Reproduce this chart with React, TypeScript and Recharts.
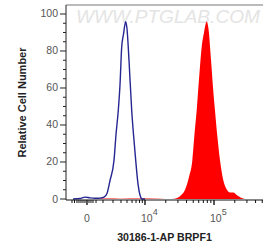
import React from 'react';
import { ComposedChart, Area, Line, XAxis, YAxis, ReferenceLine, Customized } from 'recharts';

// x values are display-scale positions: 4 = 10^4, 5 = 10^5 (biexponential axis)
const blueX = [2.957, 3.058, 3.13, 3.203, 3.275, 3.348, 3.406, 3.449, 3.493, 3.551, 3.58, 3.613, 3.638, 3.662, 3.688, 3.72, 3.739, 3.768, 3.807, 3.833, 3.865, 3.899, 3.928, 3.957, 4.0];
const blueY = [0, 0.3, 1.0, 0.6, 0.4, 0.5, 1, 3, 10, 21, 35, 48, 62, 82, 89, 95.8, 92, 75, 48, 35, 21, 8, 2, 0, 0];

const redX = [3.275, 3.493, 3.638, 3.928, 4.217, 4.391, 4.464, 4.522, 4.58, 4.638, 4.686, 4.717, 4.749, 4.783, 4.821, 4.855, 4.894, 4.92, 4.957, 4.986, 5.014, 5.051, 5.087, 5.13, 5.188, 5.232, 5.28, 5.333, 5.391, 5.449];
const redY = [0.3, 0.3, 0.2, 0.3, 0.2, 0, 0.5, 2, 5, 12, 21, 35, 48, 65, 82, 90, 96, 92, 75, 60, 48, 33, 21, 11, 5, 3.5, 3.5, 2, 0.7, 0];

const xMajorTicks = [3.159, 4, 5];
const xMajorLabels = ['0', '10', '10'];
const xMajorSup = ['', '4', '5'];
const xMinorTicks = [2.942, 2.978, 3.014, 3.043, 3.072, 3.101, 3.13, 3.188, 3.217, 3.246, 3.29,
  3.391, 3.536, 3.652, 3.739, 3.812, 3.87, 3.92, 3.961,
  4.301, 4.477, 4.602, 4.699, 4.778, 4.845, 4.903, 4.954,
  5.301, 5.477, 5.602, 5.699];
const xDomain = [2.855, 5.71];

const yMajorTicks = [0, 20, 40, 60, 80, 100];
const yMinorTicks = [5, 10, 15, 25, 30, 35, 45, 50, 55, 65, 70, 75, 85, 90, 95];
const yDomain = [-0.54, 104.86];

const xTitle = '30186-1-AP BRPF1';
const yTitle = 'Relative Cell Number';
const watermark = 'WWW.PTGLAB.COM';

const blueData = blueX.map((x, i) => ({ x, y: blueY[i] }));
const redData = redX.map((x, i) => ({ x, y: redY[i] }));
const allXTicks = [...xMajorTicks, ...xMinorTicks].sort((a, b) => a - b);
const allYTicks = [...yMajorTicks, ...yMinorTicks].sort((a, b) => a - b);

const FONT = '"Liberation Sans", Arial, sans-serif';

const XTick = (props: any) => {
  const { x, y, payload } = props;
  const idx = xMajorTicks.indexOf(payload.value);
  const major = idx >= 0;
  return (
    <g>
      <line x1={x} x2={x} y1={y} y2={y + (major ? 5 : 3)} stroke="#111" strokeWidth={major ? 1.4 : 1} />
      {major && (
        xMajorSup[idx] ? (
          <text x={x - 4} y={y + 22} fontSize={10.5} fill="#555" fontFamily={FONT} textAnchor="start">
            {xMajorLabels[idx]}
            <tspan dy={-7} fontSize={9}>{xMajorSup[idx]}</tspan>
          </text>
        ) : (
          <text x={x} y={y + 22} fontSize={10.5} fill="#555" fontFamily={FONT} textAnchor="middle">
            {xMajorLabels[idx]}
          </text>
        )
      )}
    </g>
  );
};

const YTick = (props: any) => {
  const { x, y, payload } = props;
  const major = yMajorTicks.indexOf(payload.value) >= 0;
  return (
    <g>
      <line x1={x - (major ? 6 : 3)} x2={x} y1={y} y2={y} stroke="#222" strokeWidth={1} />
      {major && (
        <text x={x - 8} y={y + 3.5} fontSize={10.5} fill="#555" fontFamily={FONT} textAnchor="end">
          {payload.value}
        </text>
      )}
    </g>
  );
};

const Texts = () => (
  <g>
    <text x={76} y={23} fontSize={18} fill="#e4e4e4" fontFamily={FONT} textLength={184} lengthAdjust="spacingAndGlyphs" fontStyle="italic">
      {watermark}
    </text>
    <text x={164.5} y={241} fontSize={10.6} fontWeight="bold" fill="#222" fontFamily={FONT} textAnchor="middle">
      {xTitle}
    </text>
    <text x={0} y={0} transform="translate(26,102.5) rotate(-90)" fontSize={11} fontWeight="bold" fill="#222" fontFamily={FONT} textAnchor="middle">
      {yTitle}
    </text>
  </g>
);

export default function App() {
  return (
    <div style={{ position: 'absolute', left: 0, top: 0, background: '#fff' }}>
      <ComposedChart width={263} height={249} margin={{ top: 5, right: 0, bottom: 0, left: 0 }}>
        <XAxis
          dataKey="x"
          type="number"
          domain={xDomain}
          ticks={allXTicks}
          interval={0}
          height={49}
          tickSize={0}
          tickMargin={0}
          tickLine={false}
          tick={<XTick />}
          axisLine={{ stroke: '#111', strokeWidth: 1.2 }}
          allowDataOverflow
        />
        <YAxis
          type="number"
          domain={yDomain}
          ticks={allYTicks}
          interval={0}
          width={66}
          tickSize={0}
          tickMargin={0}
          tickLine={false}
          tick={<YTick />}
          axisLine={{ stroke: '#222', strokeWidth: 1 }}
          allowDataOverflow
        />
        <Customized component={Texts} />
        <ReferenceLine y={yDomain[1]} stroke="#777" strokeWidth={1} ifOverflow="visible" />
        <Area
          data={redData}
          dataKey="y"
          type="monotone"
          baseValue={0}
          fill="#ff0000"
          fillOpacity={1}
          stroke="none"
          isAnimationActive={false}
          dot={false}
          activeDot={false}
        />
        <Line
          data={blueData}
          dataKey="y"
          type="monotone"
          stroke="#262692"
          strokeWidth={1.4}
          dot={false}
          activeDot={false}
          isAnimationActive={false}
        />
      </ComposedChart>
    </div>
  );
}
